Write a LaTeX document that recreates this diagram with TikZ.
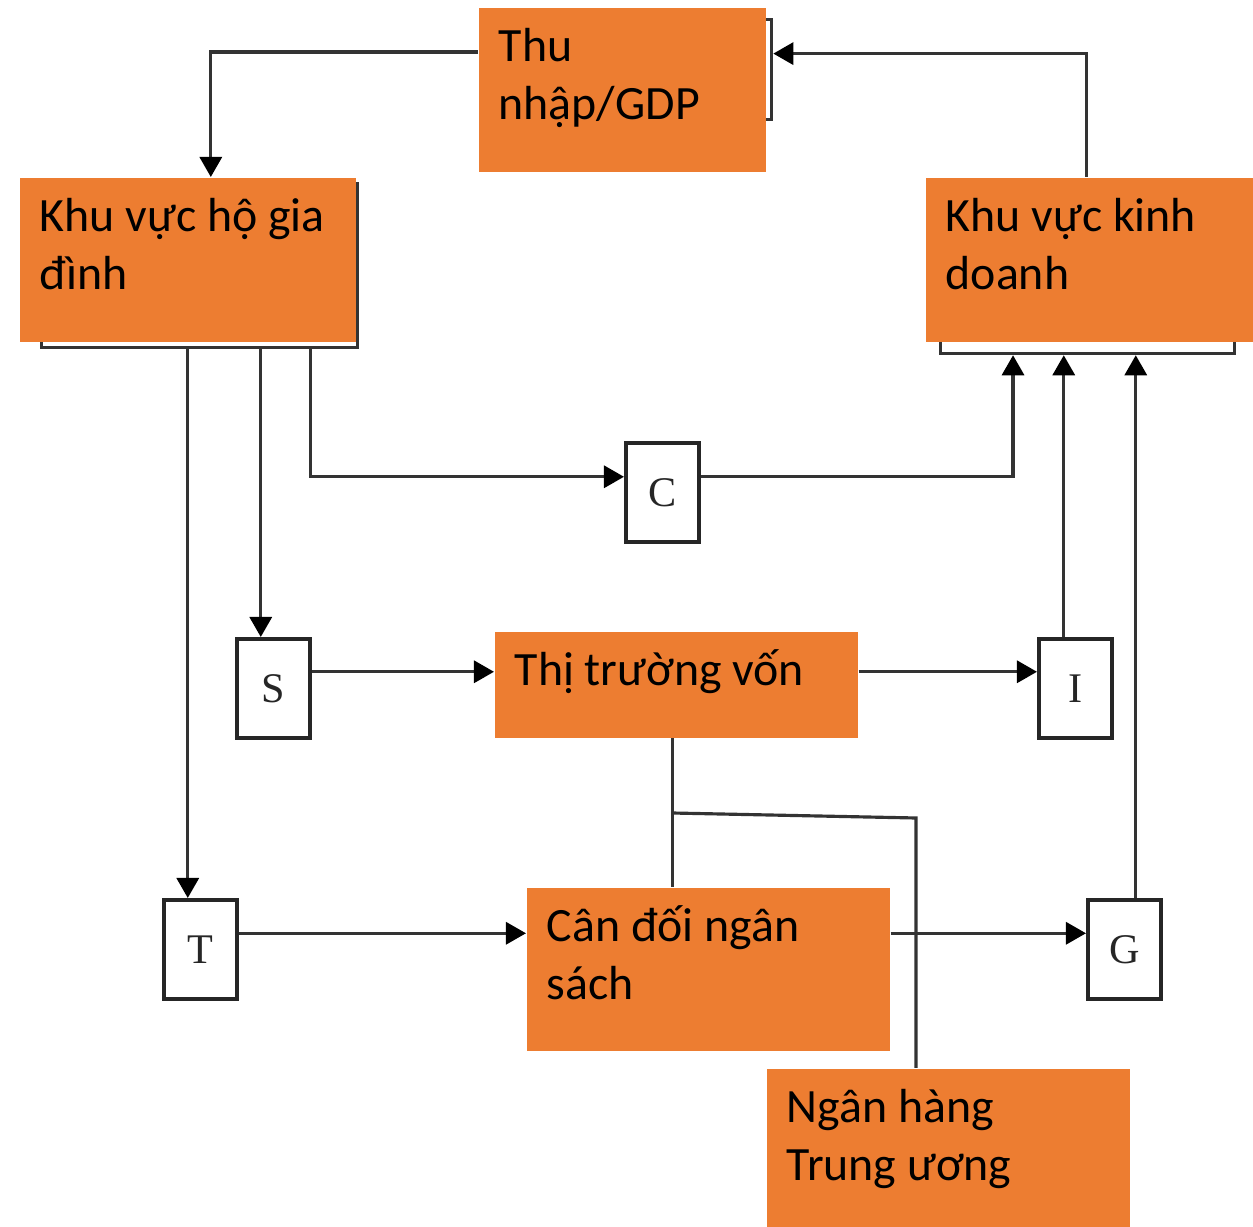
\documentclass[tikz,border=0pt]{standalone}
\usepackage{fontspec}
\setmainfont{Carlito}
\newfontfamily\letterfont{Liberation Serif}
\usepackage{xcolor}
\usepackage{tikz}
\usetikzlibrary{arrows.meta}

\definecolor{boxorange}{HTML}{ED7D31}
\definecolor{lineclr}{HTML}{333333}

\tikzset{
  orbox/.style={fill=boxorange, anchor=north west, inner xsep=0.2cm, inner ysep=0pt,
    text height=0.54cm, font=\fontsize{13.6}{16.5}\selectfont,
    execute at begin node={\spaceskip=0pt\xspaceskip=0pt\relax}},
  backbox/.style={draw=lineclr, line width=0.9pt, fill=white, anchor=north west, inner sep=0pt},
  letterbox/.style={draw=black!85, line width=1pt, fill=white, anchor=north west, inner sep=0pt,
    minimum width=0.73cm, minimum height=0.99cm, text=black!85,
    font=\letterfont\fontsize{12}{14}\selectfont},
  flow/.style={draw=lineclr, line width=0.9pt, -{Triangle[length=0.2cm,width=0.22cm,color=black]}},
  link/.style={draw=lineclr, line width=0.9pt}
}

\begin{document}
\begin{tikzpicture}[x=0.01cm, y=-0.01cm]

    \useasboundingbox (0,0) rectangle (1253,1227);

    % Boxes lying behind the orange ones
    \node[backbox, minimum width=2.70cm, minimum height=1.00cm] (thub) at (500,18) {};
    \node[backbox, minimum width=3.16cm, minimum height=1.64cm] (hhb) at (40,182) {};
    \node[backbox, minimum width=2.94cm, minimum height=1.67cm] (kdb) at (939,185) {};

    % Orange boxes
    \node[orbox, text width=2.47cm, text depth=1.10cm] (thu) at (478,7) {Thu\\nhập/GDP};
    \node[orbox, text width=2.96cm, text depth=1.10cm] (hh) at (19,177) {Khu vực hộ gia\\đình};
    \node[orbox, text width=2.88cm, text depth=1.10cm] (kd) at (925,177) {Khu vực kinh\\doanh};
    \node[orbox, text width=3.23cm, text depth=0.52cm] (tt) at (494,631) {Thị trường vốn};
    \node[orbox, text width=3.23cm, text depth=1.09cm] (cd) at (526,887) {Cân đối ngân\\sách};
    \node[orbox, text width=3.23cm, text depth=1.05cm] (nh) at (766,1068) {Ngân hàng\\Trung ương};

    % Letter boxes
    \node[letterbox] (c) at (624,441) {C};
    \node[letterbox] (s) at (235,637) {S};
    \node[letterbox] (i) at (1037,637) {I};
    \node[letterbox] (t) at (162,898) {T};
    \node[letterbox] (g) at (1086,898) {G};

    % Income loop at the top
    \draw[flow] ([yshift=-0.45cm]thu.north west) -| ([xshift=0.23cm]hh.north);
    \draw[flow] ([xshift=-0.03cm]kd.north) |- ([yshift=0.16cm]thub.east);

    % Household spending, saving, taxes
    \draw[flow] ([xshift=-0.49cm]hhb.south east) |- ([yshift=0.155cm]c.west);
    \draw[flow] ([xshift=-0.125cm]s.north |- hhb.south) -- ([xshift=-0.125cm]s.north);
    \draw[flow] ([xshift=-0.125cm]t.north |- hhb.south) -- ([xshift=-0.125cm]t.north);

    % Back to the firms
    \draw[flow] ([yshift=0.155cm]c.east) -| ([xshift=0.74cm]kdb.south west);
    \draw[flow] ([xshift=-0.115cm]i.north) -- ([xshift=-0.115cm]i.north |- kdb.south);
    \draw[flow] ([xshift=0.115cm]g.north) -- ([xshift=0.115cm]g.north |- kdb.south);

    % Middle and bottom rows
    \draw[flow] ([yshift=0.165cm]s.east) -- ([yshift=0.165cm]s.east -| tt.west);
    \draw[flow] ([yshift=0.165cm]i.west -| tt.east) -- ([yshift=0.165cm]i.west);
    \draw[flow] ([yshift=0.16cm]t.east) -- ([yshift=0.16cm]t.east -| cd.west);
    \draw[flow] ([yshift=0.16cm]g.west -| cd.east) -- ([yshift=0.16cm]g.west);

    % Links to the central bank
    \coordinate (jn) at (672,813);
    \coordinate (jr) at (916,818);
    \draw[link] ([xshift=-0.035cm]tt.south) -- ([xshift=-0.035cm]tt.south |- cd.north);
    \draw[link] (jn) -- (jr) -- (jr |- nh.north);

\end{tikzpicture}
\end{document}
